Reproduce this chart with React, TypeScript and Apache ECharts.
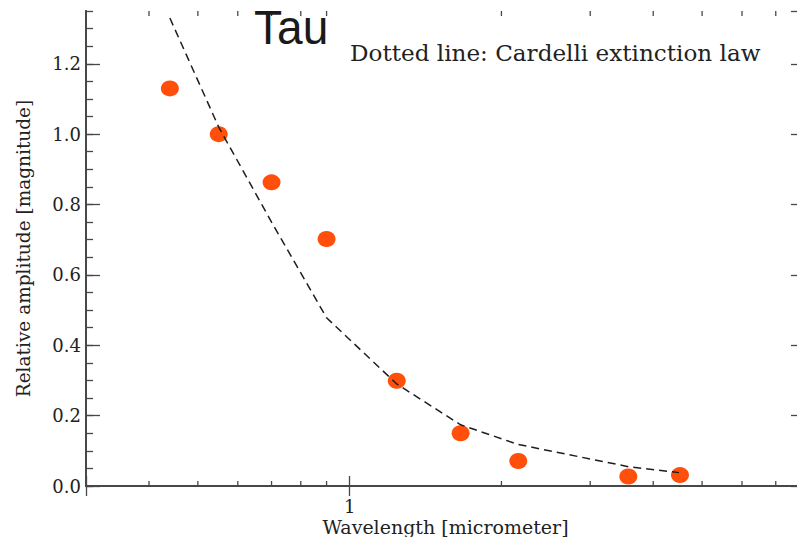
import React, { useEffect, useRef } from "react";
import * as echarts from "echarts";

// Measured band amplitudes (wavelength in micrometer, relative amplitude in magnitude)
const wavelengths = [0.44, 0.55, 0.70, 0.90, 1.24, 1.66, 2.16, 3.57, 4.52];
const amplitudes = [1.13, 1.0, 0.863, 0.702, 0.299, 0.15, 0.071, 0.027, 0.031];

// Cardelli extinction law evaluated at the same bands, normalised to V
const cardelliWavelengths = [0.44, 0.55, 0.70, 0.90, 1.24, 1.66, 2.16, 3.57, 4.5];
const cardelliValues = [1.33, 1.02, 0.75, 0.478, 0.29, 0.174, 0.118, 0.055, 0.038];

// Minor log ticks along the wavelength axis
const minorWavelengthTicks = [0.4, 0.5, 0.6, 0.7, 0.8, 0.9, 2, 3, 4, 5, 6, 7];

const X_MIN = 0.3;
const X_MAX = 8;
const Y_MIN = 0;
const Y_MAX = 1.35;

const SERIF = "'DejaVu Serif', 'Liberation Serif', serif";
const AXIS_COLOR = "#474747";
const TEXT_COLOR = "#222222";

export default function App() {
  const ref = useRef<HTMLDivElement>(null);

  useEffect(() => {
    if (!ref.current) return;
    const chart = echarts.init(ref.current, undefined, { renderer: "svg" });

    const axisLine = { show: true, lineStyle: { color: AXIS_COLOR, width: 1.8 } };

    const yAxisBase = (position: "left" | "right", interval: number, tickLen: number, labels: boolean) => ({
      type: "value",
      position,
      min: Y_MIN,
      max: Y_MAX,
      interval,
      axisLine,
      splitLine: { show: false },
      axisTick: { show: true, inside: true, length: tickLen, lineStyle: { color: AXIS_COLOR, width: 1.3 } },
      axisLabel: labels
        ? {
            show: true,
            showMaxLabel: false,
            margin: 5,
            fontFamily: SERIF,
            fontSize: 18,
            color: TEXT_COLOR,
            formatter: (v: number) => v.toFixed(1),
          }
        : { show: false },
    });

    const xAxisBase = (position: "top" | "bottom", labels: boolean) => ({
      type: "log",
      logBase: 10,
      position,
      min: X_MIN,
      max: X_MAX,
      axisLine,
      splitLine: { show: false },
      minorTick: { show: false },
      axisTick: { show: true, inside: true, length: 10, lineStyle: { color: AXIS_COLOR, width: 1.3 } },
      axisLabel: labels
        ? {
            show: true,
            margin: 11,
            fontFamily: SERIF,
            fontSize: 18,
            color: TEXT_COLOR,
            formatter: (v: number) => (Math.abs(v - 1) < 1e-9 ? "1" : ""),
          }
        : { show: false },
    });

    chart.setOption({
      animation: false,
      backgroundColor: "#ffffff",
      grid: { left: 86, top: 11, right: 25, bottom: 51, containLabel: false, outerBoundsMode: "none" },
      xAxis: [
        {
          ...xAxisBase("bottom", true),
          name: "Wavelength [micrometer]",
          nameLocation: "middle",
          nameGap: 31,
          nameMoveOverlap: false,
          nameTextStyle: { fontFamily: SERIF, fontSize: 19, color: TEXT_COLOR, lineHeight: 19 },
        },
        xAxisBase("top", false),
      ],
      yAxis: [
        {
          ...yAxisBase("left", 0.2, 14, true),
          name: "Relative amplitude [magnitude]",
          nameLocation: "middle",
          nameGap: 53,
          nameMoveOverlap: false,
          nameTextStyle: { fontFamily: SERIF, fontSize: 18.5, color: TEXT_COLOR },
        },
        yAxisBase("left", 0.05, 7, false),
        yAxisBase("right", 0.2, 14, false),
        yAxisBase("right", 0.05, 7, false),
      ],
      graphic: [
        {
          type: "text",
          x: 254,
          y: 3,
          scaleX: 0.96,
          style: {
            text: "Tau",
            font: "48px 'Liberation Sans', Arial, sans-serif",
            fill: "#1a1a1a",
          },
          z: 100,
        },
        {
          type: "text",
          x: 350,
          y: 42,
          scaleX: 1.05,
          style: {
            text: "Dotted line: Cardelli extinction law",
            font: `22px ${SERIF}`,
            fill: TEXT_COLOR,
          },
        },
      ],
      series: [
        {
          type: "custom",
          xAxisIndex: 0,
          yAxisIndex: 0,
          clip: false,
          silent: true,
          data: minorWavelengthTicks.map((w) => [w, Y_MIN]),
          renderItem: (_params: any, api: any) => {
            const w = api.value(0);
            const b = api.coord([w, Y_MIN]);
            const t = api.coord([w, Y_MAX]);
            const style = { stroke: AXIS_COLOR, lineWidth: 1.3 };
            return {
              type: "group",
              children: [
                { type: "line", shape: { x1: b[0], y1: b[1], x2: b[0], y2: b[1] - 5 }, style },
                { type: "line", shape: { x1: t[0], y1: t[1], x2: t[0], y2: t[1] + 5 }, style },
              ],
            };
          },
        },
        {
          type: "scatter",
          xAxisIndex: 0,
          yAxisIndex: 0,
          symbol: "circle",
          symbolSize: [18, 16],
          itemStyle: { color: "#ff4f0a", opacity: 1 },
          data: wavelengths.map((w, i) => [w, amplitudes[i]]),
          z: 2,
        },
        {
          type: "line",
          xAxisIndex: 0,
          yAxisIndex: 0,
          showSymbol: false,
          symbol: "none",
          lineStyle: { color: "#1e1e1e", width: 1.5, type: [8, 5] },
          data: cardelliWavelengths.map((w, i) => [w, cardelliValues[i]]),
          z: 3,
        },
      ],
    });

    return () => chart.dispose();
  }, []);

  return (
    <div style={{ position: "fixed", left: 0, top: 0, width: 797, height: 537, overflow: "hidden", background: "#fff" }}>
      <div ref={ref} style={{ width: 830, height: 537 }} />
    </div>
  );
}
